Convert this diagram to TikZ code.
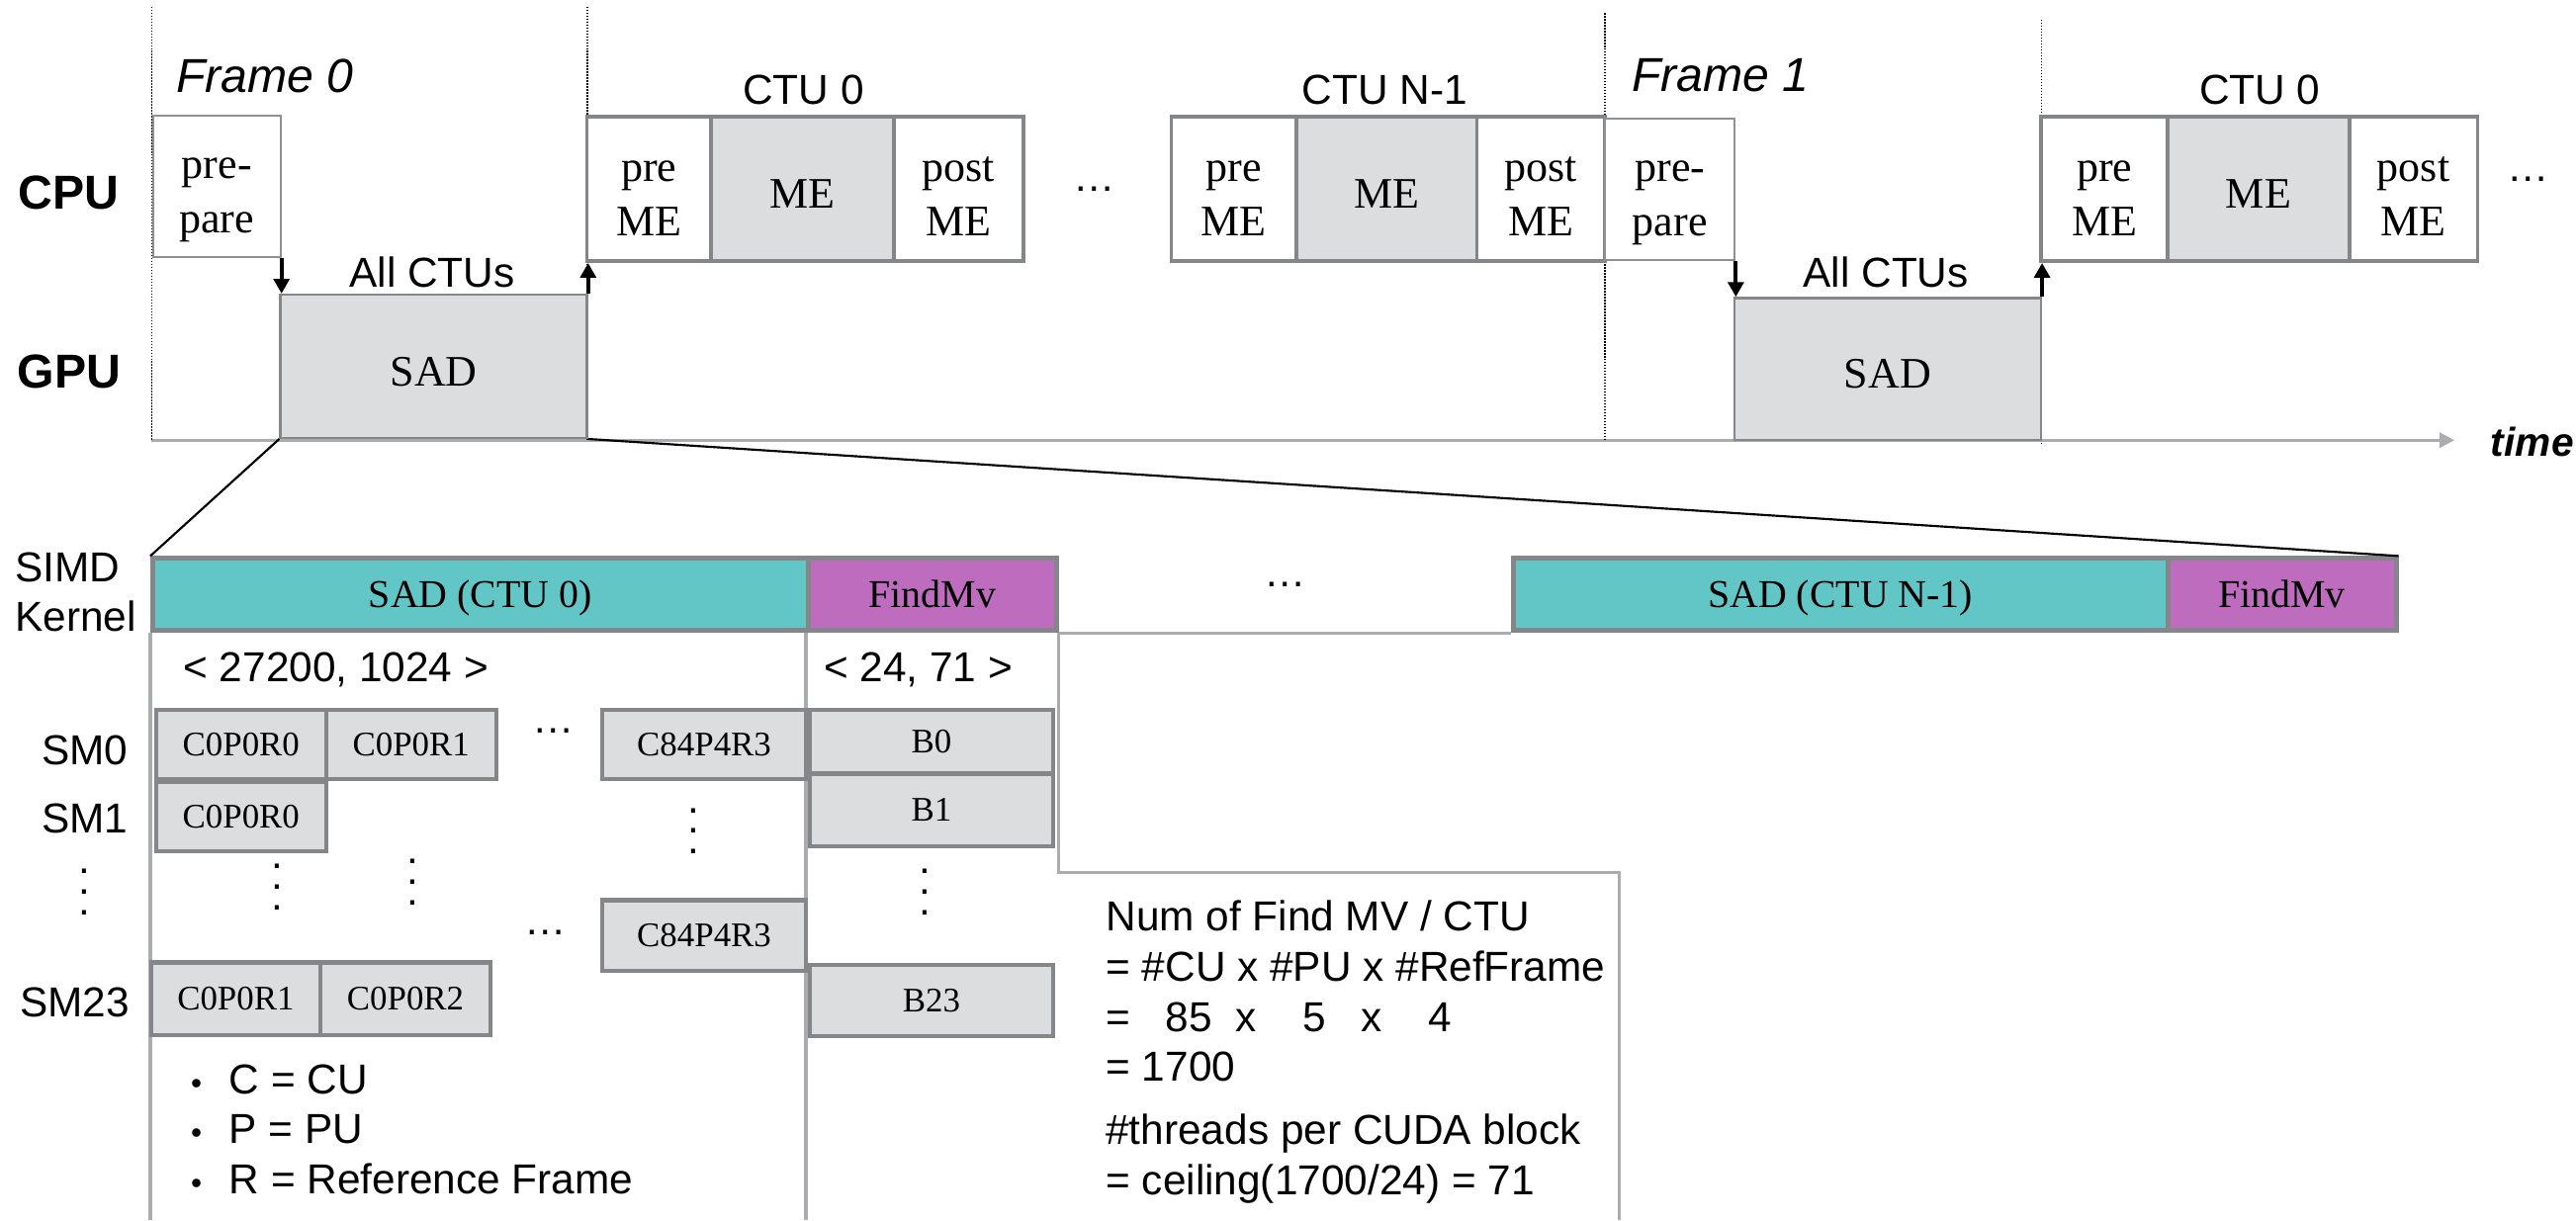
\documentclass[tikz,border=0pt]{standalone}
\usepackage{fontspec}
\setmainfont{Liberation Serif}
\setsansfont{Liberation Sans}
\usepackage{tikz}
\usetikzlibrary{arrows.meta, positioning, backgrounds}

\definecolor{boxgray}{HTML}{848689}
\definecolor{prepgray}{HTML}{8E9093}
\definecolor{cellfill}{HTML}{DCDDDF}
\definecolor{linegray}{HTML}{AAACAF}
\definecolor{kernteal}{HTML}{63C6C6}
\definecolor{kernpurple}{HTML}{BE6CBE}

\newcommand{\vdts}{\vbox{\baselineskip=12.5pt\lineskiplimit=0pt\hbox{.}\hbox{.}\hbox{.}}}
\newcommand{\bul}{\makebox[23.4pt][l]{\fontsize{19}{19}\selectfont •}}

\begin{document}
\begin{tikzpicture}[x=1pt, y=-1pt,
    lbl/.style={font=\sffamily\fontsize{25.5}{30.5}\selectfont, inner sep=0pt},
    unit/.style={font=\sffamily\bfseries\fontsize{29}{34}\selectfont, inner sep=0pt},
    framelbl/.style={font=\sffamily\itshape\fontsize{29}{34}\selectfont, inner sep=0pt, anchor=west},
    task/.style={rectangle, draw=boxgray, line width=2.2pt, inner sep=0pt, minimum height=88, align=center,
      text height=23.6pt, text depth=0pt, font=\rmfamily\fontsize{26.5}{33}\selectfont},
    twol/.style={text height=56.6pt},
    prep/.style={task, twol, draw=prepgray, line width=1.2pt, fill=white},
    gpujob/.style={task, fill=cellfill, line width=1.5pt},
    kern/.style={rectangle, draw=boxgray, line width=3pt, inner sep=0pt, minimum height=44,
      text height=16pt, text depth=0pt, font=\rmfamily\fontsize{24}{28}\selectfont},
    cell/.style={rectangle, draw=boxgray, fill=cellfill, line width=2.5pt, inner sep=0pt, font=\rmfamily\fontsize{21}{25}\selectfont},
    guide/.style={densely dotted, line width=0.8pt},
    sync/.style={-{Triangle[length=9pt,width=9.5pt]}, line width=2.4pt},
    zoomline/.style={line width=1.3pt},
    wall/.style={draw=linegray, line width=2pt}
]
\useasboundingbox (0,0) rectangle (1568,743);

% Time axis and frame guides
\coordinate (t0) at (92,268);
\coordinate (t1) at (1494,268);
\draw[draw=linegray, line width=2pt, -{Triangle[length=9pt,width=9pt]}] (t0) -- (t1);
\node[font=\sffamily\bfseries\itshape\fontsize{24.5}{29}\selectfont, inner sep=0pt, anchor=base west] (time) at (1516,278) {time};
\draw[guide] (92.3,4) -- (92.3,268);
\draw[guide] (357.5,4) -- (357.5,268);
\draw[guide] (977,8) -- (977,268);
\draw[guide] (1242.5,12) -- (1242.5,270);

\node[unit] (cpu) at (42,117.5) {CPU};
\node[unit] (gpu) at (42,226) {GPU};

% Frame 0
\node[framelbl] (frame0) at (107,46) {Frame 0};
\node[prep, minimum width=77.5, minimum height=86] (prep0) at (132,113.5) {pre-\\pare};
\node[gpujob, minimum width=186.5, minimum height=87] (sad0) at (264,223) {SAD};
\node[lbl] (all0) at (263,166) {All CTUs};
\node[task, twol, fill=white, minimum width=75.5] (pre0) at (395,115) {pre\\ME};
\node[task, fill=cellfill, minimum width=111] (me0) at (488.5,115) {ME};
\node[task, twol, fill=white, minimum width=79] (post0) at (583.5,115) {post\\ME};
\node[lbl] (ctu0) at (489,55) {CTU 0};
\node[lbl] (more0) at (666,115) {\dots};
\node[task, twol, fill=white, minimum width=76] (preN) at (751,115) {pre\\ME};
\node[task, fill=cellfill, minimum width=110] (meN) at (844,115) {ME};
\node[task, twol, fill=white, minimum width=78] (postN) at (938,115) {post\\ME};
\node[lbl] (ctuN) at (843,55) {CTU N-1};

% Frame 1
\node[framelbl] (frame1) at (993,46) {Frame 1};
\node[prep, minimum width=79, minimum height=86.5] (prep1) at (1016.5,115.25) {pre-\\pare};
\node[gpujob, minimum width=186.5, minimum height=86.5] (sad1) at (1149,224.75) {SAD};
\node[lbl] (all1) at (1148,166) {All CTUs};
\node[task, twol, fill=white, minimum width=77] (pre2) at (1281,115) {pre\\ME};
\node[task, fill=cellfill, minimum width=110.5] (me2) at (1374.75,115) {ME};
\node[task, twol, fill=white, minimum width=78] (post2) at (1469,115) {post\\ME};
\node[lbl] (ctu2) at (1375.5,55) {CTU 0};
\node[lbl] (more2) at (1539,109) {\dots};

% CPU <-> GPU hand-over
\draw[sync] (prep0.south east) -- (prep0.south east |- sad0.north);
\draw[sync] (sad0.north east) -- (sad0.north east |- pre0.south);
\draw[sync] (prep1.south east) -- (prep1.south east |- sad1.north);
\draw[sync] (sad1.north east) -- (sad1.north east |- pre2.south);

% SIMD kernels
\node[lbl, anchor=west, align=left] (simd) at (9,360.5) {SIMD\\Kernel};
\node[kern, fill=kernteal, minimum width=399] (sadk0) at (292.5,362) {SAD (CTU 0)};
\node[kern, fill=kernpurple, minimum width=151] (fmv0) at (567.5,362) {FindMv};
\node[lbl] (morek) at (782,356) {\dots};
\node[kern, fill=kernteal, minimum width=398.5] (sadkN) at (1120.25,362) {SAD (CTU N-1)};
\node[kern, fill=kernpurple, minimum width=139] (fmvN) at (1389,362) {FindMv};

\draw[zoomline] (sad0.south west) -- (sadk0.north west);
\draw[zoomline] (sad0.south east) -- (fmvN.north east);

\node[lbl] (grid0) at (204.5,407.5) {< 27200, 1024 >};
\node[lbl] (grid1) at (559,407.5) {< 24, 71 >};

% SMs
\node[lbl] (sm0) at (51.5,457) {SM0};
\node[lbl] (sm1) at (51.5,498.5) {SM1};
\node[lbl] (smdots) at (51.5,543) {\vdts};
\node[lbl] (sm23) at (45.5,610) {SM23};

\node[cell, minimum width=103.5, minimum height=42.5] (c00) at (146.75,453.25) {C0P0R0};
\node[cell, minimum width=103.5, minimum height=42.5] (c01) at (250.25,453.25) {C0P0R1};
\node[lbl] (dots01) at (337,445) {\dots};
\node[cell, minimum width=124, minimum height=42.5] (c0n) at (428.6,453.25) {C84P4R3};
\node[cell, minimum width=103.5, minimum height=42] (c10) at (146.75,497) {C0P0R0};
\node[lbl] (dots0n) at (422,506) {\vdts};
\node[lbl] (dots10) at (169,540) {\vdts};
\node[lbl] (dots11) at (251,537) {\vdts};
\node[lbl] (dots2) at (332,568) {\dots};
\node[cell, minimum width=124, minimum height=43] (c2n) at (428.6,569.5) {C84P4R3};
\node[cell, minimum width=103, minimum height=44] (c230) at (143.5,608) {C0P0R1};
\node[cell, minimum width=103.6, minimum height=44] (c231) at (246.8,608) {C0P0R2};

\node[cell, minimum width=148, minimum height=39] (b0) at (567,451.5) {B0};
\node[cell, minimum width=148, minimum height=44] (b1) at (567,493) {B1};
\node[lbl] (bdots) at (563,543) {\vdts};
\node[cell, minimum width=148, minimum height=43.5] (b23) at (567,609.25) {B23};

\node[lbl, anchor=west, align=left] (legend) at (116,687.5)
  {\bul C = CU\\\bul P = PU\\\bul R = Reference Frame};

\node[lbl, anchor=west, align=left] (note) at (673,640.5)
  {Num of Find MV / CTU\\= \#CU x \#PU x \#RefFrame\\=\ \ \ 85\ \ x\ \ \ \ 5\ \ \ x\ \ \ \ 4\\= 1700\\[8pt]\#threads per CUDA block\\= ceiling(1700/24) = 71};

% Column walls
\coordinate (bot) at (0,743);
\coordinate (nook) at (985.6,531);
\begin{scope}[on background layer]
\draw[wall] (sadk0.south west) -- (sadk0.south west |- bot);
\draw[wall] (fmv0.south west) -- (fmv0.south west |- bot);
\draw[wall] (fmv0.south east) |- (nook) -- (nook |- bot);
\draw[wall] (fmv0.south east) -- (sadkN.south west);
\end{scope}

\end{tikzpicture}
\end{document}
